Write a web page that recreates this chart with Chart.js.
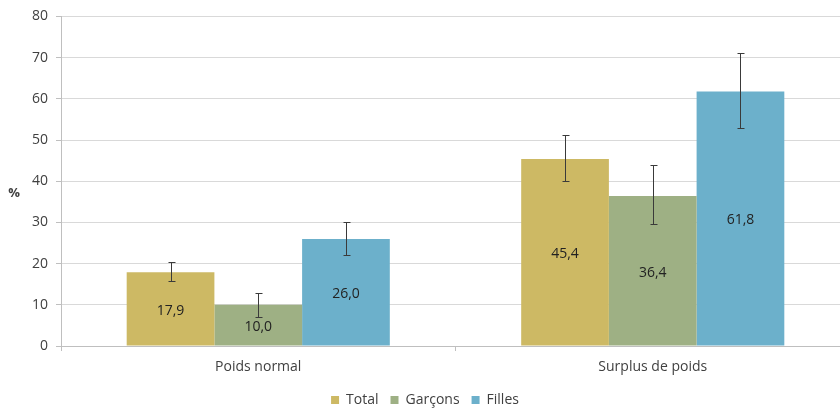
<!DOCTYPE html>
<html>
<head>
<meta charset="utf-8">
<script src="https://cdn.jsdelivr.net/npm/chart.js@4.4.0/dist/chart.umd.min.js"></script>
<style>
  html, body { margin: 0; padding: 0; background: #fff; overflow: hidden; }
  #wrap { width: 850px; height: 409px; }
</style>
</head>
<body>
<div id="wrap"><canvas id="chart"></canvas></div>
<script>
// data
const categories = ["Poids normal", "Surplus de poids"];
const totalVals = [17.9, 45.4];
const garconsVals = [10.0, 36.4];
const fillesVals = [26.0, 61.8];
// error bar ends (low / high)
const totalLow = [15.8, 40.1];
const totalHigh = [20.4, 51.1];
const garconsLow = [7.0, 29.6];
const garconsHigh = [12.8, 44.0];
const fillesLow = [22.2, 53.0];
const fillesHigh = [30.2, 71.1];
const yTicks = [0, 10, 20, 30, 40, 50, 60, 70, 80];

const FONT = "'Open Sans', sans-serif";
const TEXT = "#404040";

// error bars drawn on each bar
const errorBars = {
    id: "errorBars",
    afterDatasetsDraw(chart) {
        const ctx = chart.ctx;
        const y = chart.scales.y;
        ctx.save();
        ctx.strokeStyle = "#3a3a3a";
        ctx.lineWidth = 1;
        chart.data.datasets.forEach((ds, i) => {
            const meta = chart.getDatasetMeta(i);
            meta.data.forEach((bar, j) => {
                const x = Math.round(bar.x) + 0.5;
                const yLo = Math.round(y.getPixelForValue(ds.errLow[j])) + 0.5;
                const yHi = Math.round(y.getPixelForValue(ds.errHigh[j])) + 0.5;
                ctx.beginPath();
                ctx.moveTo(x, yLo); ctx.lineTo(x, yHi);
                ctx.moveTo(x - 3, yLo); ctx.lineTo(x + 4, yLo);
                ctx.moveTo(x - 3, yHi); ctx.lineTo(x + 4, yHi);
                ctx.stroke();
            });
        });
        ctx.restore();
    }
};

// value labels in the middle of each bar, and the "%" axis label
const valueLabels = {
    id: "valueLabels",
    afterDraw(chart) {
        const ctx = chart.ctx;
        ctx.save();
        ctx.font = "14px " + FONT;
        ctx.fillStyle = "#222";
        ctx.textAlign = "center";
        ctx.textBaseline = "middle";
        chart.data.datasets.forEach((ds, i) => {
            const meta = chart.getDatasetMeta(i);
            meta.data.forEach((bar, j) => {
                const txt = ds.data[j].toFixed(1).replace(".", ",");
                ctx.fillText(txt, bar.x, (bar.y + bar.base) / 2 + 2);
            });
        });
        ctx.font = "bold 13px " + FONT;
        ctx.fillStyle = TEXT;
        ctx.fillText("%", 14, 193);
        ctx.restore();
    }
};

const ctx = document.getElementById("chart").getContext("2d");
new Chart(ctx, {
    type: "bar",
    data: {
        labels: categories,
        datasets: [
            { label: "Total", data: totalVals, errLow: totalLow, errHigh: totalHigh,
              backgroundColor: "rgb(205,185,100)" },
            { label: "Garçons", data: garconsVals, errLow: garconsLow, errHigh: garconsHigh,
              backgroundColor: "rgb(158,176,132)" },
            { label: "Filles", data: fillesVals, errLow: fillesLow, errHigh: fillesHigh,
              backgroundColor: "rgb(108,176,203)" }
        ]
    },
    options: {
        responsive: true,
        maintainAspectRatio: false,
        animation: false,
        datasets: { bar: { categoryPercentage: 0.667, barPercentage: 1.0 } },
        layout: { padding: { top: 11, left: 0, right: 0, bottom: -8 } },
        plugins: {
            legend: {
                position: "bottom",
                labels: {
                    boxWidth: 8, boxHeight: 8, padding: 12,
                    color: TEXT, font: { family: FONT, size: 14 }
                }
            },
            tooltip: { enabled: false }
        },
        scales: {
            x: {
                afterFit(scale) { scale.height = 35; },
                grid: { display: true, drawOnChartArea: false, drawTicks: true, tickLength: 5,
                        color: "#bfbfbf", offset: true },
                border: { color: "#bfbfbf" },
                ticks: { color: TEXT, font: { family: FONT, size: 14 }, padding: 8 }
            },
            y: {
                min: 0, max: 80,
                afterFit(scale) { scale.width = 61; },
                afterBuildTicks(scale) { scale.ticks = yTicks.map(v => ({ value: v })); },
                grid: { color: "#d9d9d9", tickLength: 5, tickColor: "#bfbfbf" },
                border: { color: "#bfbfbf" },
                ticks: { color: TEXT, font: { family: FONT, size: 14 }, padding: 8 }
            }
        }
    },
    plugins: [errorBars, valueLabels]
});
</script>
</body>
</html>
